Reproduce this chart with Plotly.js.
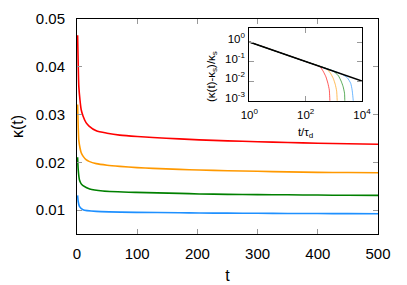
<!DOCTYPE html>
<html>
<head>
<meta charset="utf-8">
<script src="https://cdn.plot.ly/plotly-3.0.1.min.js"></script>
<style>html,body{margin:0;padding:0;background:#fff;}#chart{width:407px;height:285px;}</style>
</head>
<body>
<div id="chart"></div>
<script>
// ---- main panel: kappa(t) vs t ----
var tRed    = [1, 2, 3, 5, 7, 10, 15, 20, 32, 50, 71, 100, 126, 170, 203, 250, 300, 350, 400, 450, 500];
var kRed    = [0.0466, 0.0405, 0.0359, 0.0330, 0.0310, 0.0297, 0.0283, 0.0276, 0.0266, 0.0261, 0.0257, 0.0254, 0.0252, 0.0249, 0.0247, 0.0245, 0.0243, 0.02415, 0.0240, 0.0239, 0.0238];
var tOrange = [1, 2, 3, 5, 7, 10, 15, 20, 32, 50, 71, 100, 126, 170, 203, 250, 300, 350, 400, 450, 500];
var kOrange = [0.0321, 0.0275, 0.0246, 0.0230, 0.0220, 0.0213, 0.02057, 0.0202, 0.01973, 0.0194, 0.01916, 0.0189, 0.01874, 0.01853, 0.0184, 0.01825, 0.01812, 0.0180, 0.0179, 0.01787, 0.01782];
var tGreen  = [1, 2, 4, 7, 10, 21, 43, 98, 170, 203, 250, 300, 350, 400, 450, 500];
var kGreen  = [0.02105, 0.0185, 0.01637, 0.0155, 0.01512, 0.01442, 0.0140, 0.01371, 0.0135, 0.01338, 0.0133, 0.01325, 0.0132, 0.01315, 0.0131, 0.01308];
var tBlue   = [1, 2, 4, 10, 32, 98, 170, 203, 250, 300, 350, 400, 450, 500];
var kBlue   = [0.01308, 0.0118, 0.01078, 0.01008, 0.00973, 0.00952, 0.00946, 0.00939, 0.00936, 0.00933, 0.0093, 0.00928, 0.00926, 0.00925];

// ---- inset: (kappa(t)-kappa_s)/kappa_s vs t/tau_d ----
var xPower = [1, 10000];
var yPower = [1, 0.01];
var xInRed    = [1, 100, 323.6, 416.9, 524.8, 616.6, 691.8, 724.4, 730];
var yInRed    = [1, 0.1, 0.0537, 0.0324, 0.0166, 0.00776, 0.00355, 0.001, 0.0008];
var xInOrange = [1, 100, 549.5, 758.6, 955, 1122, 1259, 1318, 1325];
var yInOrange = [1, 0.1, 0.0427, 0.0257, 0.0138, 0.00692, 0.00316, 0.001, 0.0008];
var xInGreen  = [1, 100, 955, 1445, 1820, 2138, 2399, 2455, 2465];
var yInGreen  = [1, 0.1, 0.0324, 0.0191, 0.0100, 0.00525, 0.0024, 0.001, 0.0008];
var xInBlue   = [1, 100, 1905, 3020, 3981, 4467, 4898, 4910];
var yInBlue   = [1, 0.1, 0.0229, 0.0148, 0.00776, 0.00355, 0.001, 0.0008];

var xTicks = [0, 100, 200, 300, 400, 500];
var yTicks = [0.01, 0.02, 0.03, 0.04, 0.05];
var inXTickVals = [1, 100, 10000];
var inXTickText = ['10<sup>0</sup>', '10<sup>2</sup>', '10<sup>4</sup>'];
var inYTickVals = [0.001, 0.01, 0.1, 1];
var inYTickText = ['10<sup>-3</sup>', '10<sup>-2</sup>', '10<sup>-1</sup>', '10<sup>0</sup>'];

var cRed = '#ff0000', cOrange = '#ff9900', cGreen = '#008000', cBlue = '#1e90ff';

function mainTrace(x, y, c) {
  return {x: x, y: y, type: 'scatter', mode: 'lines', line: {color: c, width: 1.6, shape: 'spline', smoothing: 0.6}, xaxis: 'x', yaxis: 'y', hoverinfo: 'none'};
}
function insetTrace(x, y, c) {
  return {x: x, y: y, type: 'scatter', mode: 'lines', line: {color: c, width: 1, shape: 'spline', smoothing: 0.5}, opacity: 0.65, xaxis: 'x2', yaxis: 'y2', hoverinfo: 'none'};
}

var data = [
  mainTrace(tRed, kRed, cRed),
  mainTrace(tOrange, kOrange, cOrange),
  mainTrace(tGreen, kGreen, cGreen),
  mainTrace(tBlue, kBlue, cBlue),
  insetTrace(xInRed, yInRed, cRed),
  insetTrace(xInOrange, yInOrange, cOrange),
  insetTrace(xInGreen, yInGreen, cGreen),
  insetTrace(xInBlue, yInBlue, cBlue),
  {x: xPower, y: yPower, type: 'scatter', mode: 'lines', line: {color: '#000', width: 1.5}, xaxis: 'x2', yaxis: 'y2', hoverinfo: 'none'}
];

var font = {family: 'Liberation Sans, Arial, sans-serif', size: 15, color: '#000'};
var axBase = {
  showgrid: false, zeroline: false, showline: true, linecolor: '#000', linewidth: 1,
  ticks: 'inside', ticklen: 5, tickwidth: 1, tickcolor: '#999', mirror: 'ticks'
};

var layout = {
  width: 407, height: 285,
  margin: {l: 77, r: 29, t: 19, b: 51},
  paper_bgcolor: '#fff', plot_bgcolor: 'rgba(0,0,0,0)',
  showlegend: false,
  font: font,
  xaxis: Object.assign({}, axBase, {
    range: [0, 500], tickvals: xTicks, ticklabelstandoff: 6,
    title: {text: 't', font: {size: 16}, standoff: 8}
  }),
  yaxis: Object.assign({}, axBase, {
    range: [0.005, 0.05], tickvals: yTicks, tickformat: '.2f', ticklabelstandoff: 8,
    title: {text: 'κ(t)', font: {size: 16}, standoff: 8}
  }),
  xaxis2: Object.assign({}, axBase, {
    type: 'log', range: [0, 4], anchor: 'y2', domain: [0.5724, 0.9468],
    tickvals: inXTickVals, ticktext: inXTickText, tickfont: {size: 11.5}, ticklabelstandoff: 3,
    title: {text: 't/τ<sub>d</sub>', font: {size: 11.5}, standoff: 8}
  }),
  yaxis2: Object.assign({}, axBase, {
    type: 'log', range: [-3, 0.7], anchor: 'x2', domain: [0.620, 0.9567],
    tickvals: inYTickVals, ticktext: inYTickText, tickfont: {size: 11.5},
    ticklabelstandoff: 1, ticklabelshift: -3
  }),
  annotations: [{
    text: '(κ(t)-κ<sub>s</sub>)/κ<sub>s</sub>', xref: 'paper', yref: 'paper',
    x: 0.4485, y: 0.735, xanchor: 'center', yanchor: 'middle', textangle: -90,
    showarrow: false, font: {size: 11.5}
  }]
};

Plotly.newPlot('chart', data, layout, {displayModeBar: false, staticPlot: true});
</script>
</body>
</html>
